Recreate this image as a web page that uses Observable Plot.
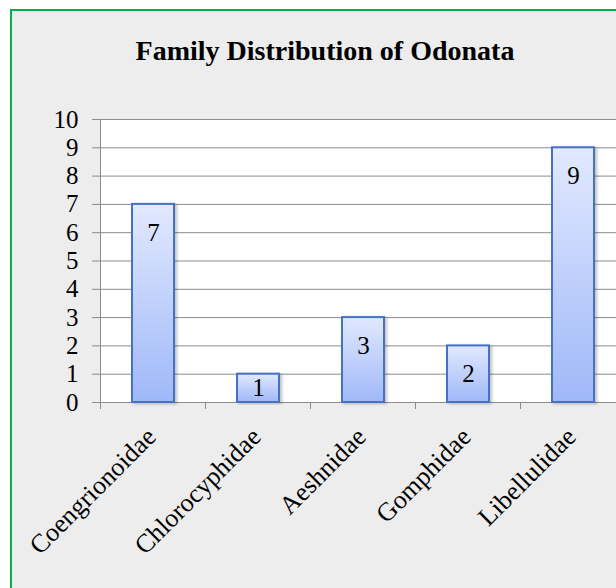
<!DOCTYPE html>
<html><head><meta charset="utf-8">
<script src="https://cdn.jsdelivr.net/npm/d3@7"></script>
<script src="https://cdn.jsdelivr.net/npm/@observablehq/plot@0.6"></script>
<style>
html,body{margin:0;padding:0;background:#fff;}
#wrap{position:relative;width:616px;height:588px;overflow:hidden;background:#fff;}
#panel{position:absolute;left:10px;top:9px;width:700px;height:700px;border:2px solid #00b050;background:#ededed;box-sizing:border-box;}
#title{position:absolute;left:0;width:650px;top:35px;text-align:center;font-family:'Liberation Serif','Times New Roman',serif;font-weight:bold;font-size:28px;line-height:32px;color:#000;}
#chart{position:absolute;left:0;top:0;}
</style></head><body>
<div id="wrap"><div id="panel"></div><div id="title">Family Distribution of Odonata</div><div id="chart"></div></div>
<script>
const families = ["Coengrionoidae", "Chlorocyphidae", "Aeshnidae", "Gomphidae", "Libellulidae"];
const counts = [7, 1, 3, 2, 9];
const yTicks = [0, 1, 2, 3, 4, 5, 6, 7, 8, 9, 10];
const data = families.map((f, i) => ({family: f, count: counts[i]}));

const plot = Plot.plot({
  width: 616, height: 588,
  marginLeft: 100, marginRight: 0, marginTop: 119, marginBottom: 186,
  style: {background: "transparent", fontFamily: "'Liberation Serif','Times New Roman',serif", fontSize: "25px", color: "#000", overflow: "visible"},
  x: {domain: families, range: [100, 626], paddingInner: 0.6, paddingOuter: 0.3, label: null},
  y: {domain: [0, 10], label: null},
  marks: [
    Plot.frame({fill: "white", stroke: null}),
    Plot.gridY(yTicks.slice(1), {stroke: "#8c8c8c", strokeOpacity: 1}),
    Plot.frame({anchor: "left", stroke: "#8c8c8c"}),
    Plot.ruleY([0], {stroke: "#8c8c8c"}),
    Plot.axisY(yTicks, {tickSize: 8, tickPadding: 14, stroke: "#8c8c8c", fill: "black", fontSize: 25, label: null}),
    Plot.axisX({tickSize: 0, tickRotate: -45, tickPadding: 30, dx: -2, fill: "black", fontSize: 26, label: null}),
    Plot.barY(data, {x: "family", y: "count", fill: "url(#barGrad)", stroke: "#4472c4", strokeWidth: 2}),
    Plot.text(data, {x: "family", y: d => Math.max(d.count - 1, d.count / 2), text: d => String(d.count), fontSize: 25, fill: "black"})
  ]
});

const svg = d3.select(plot);
svg.insert("defs", ":first-child").html(
  '<linearGradient id="barGrad" x1="0" y1="0" x2="0" y2="1">' +
  '<stop offset="0" stop-color="#e2e9ff"/><stop offset="1" stop-color="#9fb8f8"/></linearGradient>' +
  '<filter id="sh" x="-20%" y="-5%" width="150%" height="115%"><feDropShadow dx="2" dy="1" stdDeviation="1.5" flood-color="#000" flood-opacity="0.25"/></filter>'
);
svg.selectAll('g[aria-label="bar"] rect').attr("filter", "url(#sh)");

// category boundary ticks on the x axis
const xs = plot.scale("x");
const ys = plot.scale("y");
const step = xs.apply(families[1]) - xs.apply(families[0]);
const bw = xs.bandwidth;
const y0 = ys.apply(0);
const g = svg.append("g").attr("stroke", "#8c8c8c");
for (let i = 0; i <= families.length; i++) {
  const bx = xs.apply(families[0]) - (step - bw) / 2 + i * step;
  g.append("line").attr("x1", bx).attr("x2", bx).attr("y1", y0).attr("y2", y0 + 7);
}
document.getElementById("chart").appendChild(plot);
</script>
</body></html>
